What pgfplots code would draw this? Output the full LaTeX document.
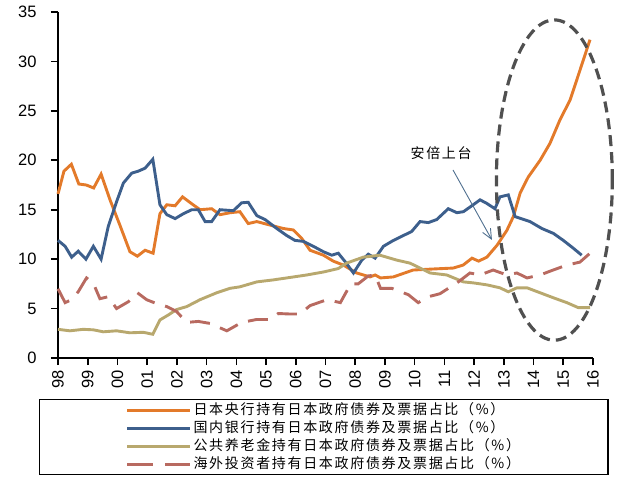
\documentclass[border=0pt]{standalone}
\usepackage{pgfplots}
\pgfplotsset{compat=1.18}
\usetikzlibrary{arrows.meta}
\usepackage{fontspec}
\setmainfont{Liberation Sans}
\newfontfamily\cjk[LetterSpace=12]{Noto Sans CJK SC}
\definecolor{cOr}{HTML}{E37A2A}
\definecolor{cBl}{HTML}{3D5F8C}
\definecolor{cKh}{HTML}{B8A86E}
\definecolor{cRd}{HTML}{B86A60}
\definecolor{cEl}{HTML}{505050}
\definecolor{cAr}{HTML}{4F6F8F}
\pgfplotsset{redleg/.style={legend image code/.code={\draw[##1, dash pattern=on 26pt off 12pt] (0pt,0pt) -- (63pt,0pt);}}}
\begin{document}
\begin{tikzpicture}
\useasboundingbox (0pt,0pt) rectangle (638pt,-485pt);
\begin{axis}[
  at={(58pt,-358pt)}, anchor=south west,
  scale only axis, width=535pt, height=346pt,
  xmin=0, xmax=18, ymin=0, ymax=35,
  axis lines=left,
  axis line style={black, line width=1.6pt, -},
  tick align=outside, major tick length=7pt,
  tick style={black, line width=1.6pt},
  xtick={0,1,...,18},
  xticklabels={98,99,00,01,02,03,04,05,06,07,08,09,10,11,12,13,14,15,16},
  ytick={0,5,...,35},
  yticklabel={\pgfmathprintnumber{\tick}\hspace*{11pt}},
  /pgf/number format/assume math mode=true,
  tick label style={font=\fontsize{16.5}{16.5}\selectfont},
  xticklabel style={rotate=90, anchor=east, xshift=-2pt},
  clip=false,
  legend style={at={(axis description cs:-0.0355,-0.1185)}, anchor=north west,
    draw=black, line width=1.3pt, inner xsep=86pt, inner ysep=2pt,
    font=\cjk\fontsize{14}{14}\selectfont,
    nodes={inner ysep=1.5pt, text height=11pt, text depth=3pt},
    row sep=1pt,
    /tikz/every even column/.append style={column sep=6pt}},
  legend cell align=left,
  legend image code/.code={\draw[#1] (0pt,0pt) -- (63pt,0pt);},
]
\addplot[cOr, line width=2.9pt] coordinates {
(0,16.6)(0.2,18.9)(0.45,19.6)(0.7,17.6)(0.95,17.5)(1.2,17.2)(1.45,18.6)(1.75,16.0)
(2.1,13.3)(2.42,10.75)(2.67,10.3)(2.93,10.9)(3.2,10.6)(3.43,14.6)(3.66,15.5)(3.94,15.4)
(4.19,16.3)(4.5,15.6)(4.78,15.0)(5.17,15.1)(5.45,14.5)(5.8,14.7)(6.12,14.8)(6.4,13.6)
(6.69,13.8)(7.13,13.45)(7.58,13.1)(7.92,12.95)(8.2,12.1)(8.48,10.9)(8.93,10.4)(9.26,9.8)
(9.6,9.4)(10.05,8.6)(10.5,8.2)(10.67,8.4)(10.85,8.1)(11.28,8.2)(11.95,8.9)(12.6,9.0)
(13.3,9.1)(13.63,9.4)(13.93,10.1)(14.15,9.8)(14.43,10.2)(14.77,11.4)(15.1,12.9)(15.32,14.3)
(15.55,16.7)(15.82,18.3)(16.22,20.0)(16.55,21.7)(16.89,24.1)(17.23,26.1)(17.56,29.1)(17.9,32.2)};
\addlegendentry{日本央行持有日本政府债券及票据占比（\%）}
\addplot[cBl, line width=2.9pt] coordinates {
(0,11.9)(0.24,11.3)(0.46,10.2)(0.68,10.8)(0.94,10.0)(1.19,11.3)(1.45,10.0)(1.69,13.3)
(1.97,15.8)(2.2,17.7)(2.48,18.7)(2.7,18.9)(2.93,19.2)(3.19,20.1)(3.43,15.5)(3.66,14.5)
(3.94,14.1)(4.22,14.6)(4.5,15.0)(4.72,15.0)(4.95,13.8)(5.17,13.8)(5.45,15.0)(5.9,14.9)
(6.18,15.7)(6.4,15.75)(6.69,14.4)(6.97,14.0)(7.36,13.1)(7.69,12.4)(7.97,11.9)(8.25,11.8)
(8.59,11.3)(8.93,10.75)(9.21,10.4)(9.43,10.6)(9.66,9.75)(9.94,8.6)(10.22,9.9)(10.44,10.5)
(10.67,10.1)(10.95,11.3)(11.23,11.8)(11.56,12.3)(11.9,12.8)(12.18,13.8)(12.46,13.7)(12.74,14.0)
(13.13,15.1)(13.42,14.7)(13.64,14.8)(13.97,15.5)(14.2,16.0)(14.42,15.65)(14.7,15.1)(14.87,16.3)
(15.15,16.5)(15.38,14.3)(15.88,13.8)(16.28,13.1)(16.67,12.6)(17.0,11.9)(17.34,11.1)(17.62,10.4)};
\addlegendentry{国内银行持有日本政府债券及票据占比（\%）}
\addplot[cKh, line width=2.9pt] coordinates {
(0,2.9)(0.4,2.75)(0.85,2.9)(1.19,2.85)(1.52,2.65)(1.97,2.75)(2.42,2.55)(2.87,2.6)
(3.19,2.4)(3.43,3.85)(3.71,4.35)(3.99,4.9)(4.33,5.2)(4.78,5.9)(5.34,6.6)(5.79,7.05)
(6.12,7.2)(6.69,7.7)(7.24,7.9)(7.81,8.15)(8.37,8.4)(8.93,8.7)(9.43,9.05)(9.71,9.6)
(10.27,10.2)(10.83,10.4)(11.4,9.9)(11.84,9.6)(12.18,9.1)(12.52,8.6)(13.08,8.4)(13.64,7.7)
(13.97,7.6)(14.43,7.4)(14.87,7.1)(15.15,6.7)(15.44,7.1)(15.78,7.1)(16.22,6.6)(16.66,6.1)
(17.12,5.6)(17.5,5.1)(17.9,5.1)};
\addlegendentry{公共养老金持有日本政府债券及票据占比（\%）}
\addplot[cRd, line width=2.9pt, dash pattern=on 20pt off 11pt, redleg] coordinates {
(0,7.0)(0.24,5.6)(0.45,5.9)(0.68,6.7)(0.96,8.1)(1.19,7.55)(1.41,6.0)(1.69,6.2)
(1.97,5.0)(2.37,5.7)(2.67,6.6)(2.98,5.9)(3.32,5.5)(3.66,5.2)(3.99,4.7)(4.33,3.6)
(4.72,3.7)(5.11,3.5)(5.68,2.75)(6.18,3.6)(6.69,3.9)(7.13,3.9)(7.41,4.5)(7.81,4.45)
(8.14,4.45)(8.48,5.3)(9.05,5.9)(9.5,5.6)(9.85,7.5)(10.1,7.5)(10.44,8.3)(10.67,8.4)
(10.85,7.05)(11.23,7.05)(11.79,6.4)(12.12,5.6)(12.46,6.2)(12.85,6.5)(13.47,7.7)(13.86,8.6)
(14.2,8.4)(14.64,8.9)(15.1,8.4)(15.44,8.6)(15.78,8.1)(16.22,8.4)(16.66,8.9)(17.12,9.4)
(17.56,9.7)(17.9,10.6)};
\addlegendentry{海外投资者持有日本政府债券及票据占比（\%）}
\draw[cEl, line width=3.2pt, dash pattern=on 11pt off 6pt] (axis cs:16.7,18) ellipse [x radius=1.95, y radius=16.2];
\draw[cAr, line width=0.9pt, -{Straight Barb[length=10pt,width=9pt]}] (axis cs:13.29,19.02) -- (axis cs:14.6,11.94);
\node[font=\cjk\fontsize{14}{14}\selectfont, inner sep=0pt] at (axis cs:12.89,20.74) {安倍上台};
\end{axis}
\end{tikzpicture}
\end{document}
